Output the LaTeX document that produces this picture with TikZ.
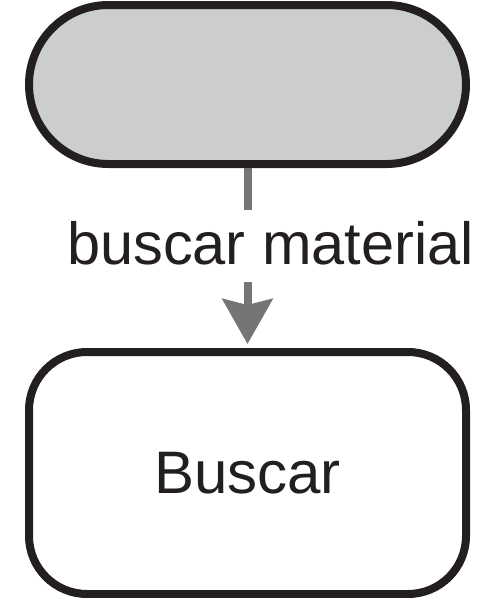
\documentclass[tikz,border=0pt]{standalone}
\usepackage{fontspec}
\setmainfont{Liberation Sans}
\usetikzlibrary{arrows.meta}
\definecolor{edge}{HTML}{231F20}
\definecolor{termfill}{HTML}{CCCDCF}
\definecolor{flow}{HTML}{757575}
\tikzset{
  box/.style={draw=edge, line width=8pt, inner sep=0pt, text=edge, font=\fontsize{60}{72}\selectfont},
  terminal/.style={box, fill=termfill, minimum width=437pt, minimum height=159pt, rounded corners=79.5pt},
  process/.style={box, fill=white, minimum width=437pt, minimum height=242pt, rounded corners=58pt},
  flowline/.style={draw=flow, line width=8pt},
  lbl/.style={font=\fontsize{59.5}{70}\selectfont, text=edge, inner sep=0pt, anchor=base}
}
\begin{document}
\begin{tikzpicture}[x=1pt,y=1pt]
\useasboundingbox (0,0) rectangle (478,-598);
\node[terminal] (start) at (247.5,-84.5) {};
\node[process] (buscar) at (247.5,-473) {\raisebox{-3pt}{Buscar}};
\node[lbl] (lab) at (270.5,-264) {buscar material};
\coordinate (g1) at (247.5,-210);
\coordinate (g2) at (247.5,-282);
\draw[flowline] (start.south) -- (g1);
\draw[flowline, -{Stealth[length=45pt,width=50pt,inset=6pt]}] (g2) -- ([yshift=4pt]buscar.north);
\end{tikzpicture}
\end{document}
